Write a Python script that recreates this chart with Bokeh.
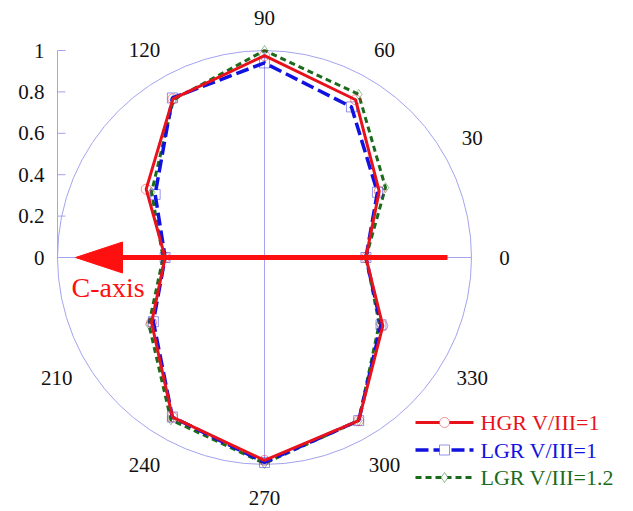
import numpy as np
from bokeh.plotting import figure
from bokeh.models import Range1d
from bokeh.core.properties import value
from bokeh.embed import file_html
from bokeh.resources import INLINE

# ---- data -------------------------------------------------------------
angles_deg = [0, 30, 60, 90, 120, 150, 180, 210, 240, 270, 300, 330]
hgr_v3_1 = [0.49, 0.64, 0.88, 0.975, 0.885, 0.66, 0.48, 0.63, 0.89, 0.98, 0.91, 0.66]
lgr_v3_1 = [0.49, 0.63, 0.84, 0.94, 0.89, 0.61, 0.48, 0.62, 0.89, 0.99, 0.91, 0.65]
lgr_v3_12 = [0.49, 0.675, 0.91, 1.0, 0.88, 0.63, 0.49, 0.645, 0.905, 0.995, 0.91, 0.64]
series_names = ["HGR V/III=1", "LGR V/III=1", "LGR V/III=1.2"]
radial_ticks = [0, 0.2, 0.4, 0.6, 0.8, 1]
radial_tick_labels = ["0", "0.2", "0.4", "0.6", "0.8", "1"]
angle_ticks = [0, 30, 60, 90, 120, 210, 240, 270, 300, 330]
angle_tick_labels = ["0", "30", "60", "90", "120", "210", "240", "270", "300", "330"]

# ---- layout -----------------------------------------------------------
W, H = 633, 511
CX, CY = 264, 257      # canvas pixel of polar origin
S = 207.0              # pixels per unit radius
FONT = value("Liberation Serif")
GRID = "#a3a3f0"
RED, BLUE, GREEN = "#e8121c", "#1212e0", "#1b6b1b"

p = figure(width=W, height=H, output_backend="svg", toolbar_location=None,
           x_range=Range1d(-CX / S, (W - CX) / S),
           y_range=Range1d(-(H - CY) / S, CY / S),
           min_border=0)
p.axis.visible = False
p.grid.visible = False
p.outline_line_color = None
p.background_fill_color = "white"


def px(d):
    return d / S


# grid: outer circle, axes cross
p.ellipse(x=0, y=0, width=2, height=2, fill_color=None, line_color=GRID, line_width=1)
p.segment(x0=[-1, 0], y0=[0, -1], x1=[1, 0], y1=[0, 1], line_color=GRID, line_width=1)

# radial axis on the left
p.segment(x0=-1, y0=0, x1=-1, y1=1, line_color=GRID, line_width=1)
p.segment(x0=[-1] * len(radial_ticks), y0=radial_ticks,
          x1=[-1 + px(8)] * len(radial_ticks), y1=radial_ticks,
          line_color=GRID, line_width=1)
p.text(x=[-1 - px(13)] * len(radial_ticks), y=radial_ticks, text=radial_tick_labels,
       text_font=FONT, text_font_size="21px", text_align="right",
       text_baseline="middle", text_color="#111111")

# angle labels
ang = np.radians(angle_ticks)
rl = px(240)
p.text(x=rl * np.cos(ang), y=rl * np.sin(ang), text=angle_tick_labels,
       text_font=FONT, text_font_size="21px", text_align="center",
       text_baseline="middle", text_color="#111111")

# series
styles = [
    dict(color=RED, dash="solid", width=3, marker="circle"),
    dict(color=BLUE, dash="13 5", width=3.5, marker="square"),
    dict(color=GREEN, dash="6 4", width=3, marker="diamond"),
]
series = [hgr_v3_1, lgr_v3_1, lgr_v3_12]
th = np.radians(angles_deg + [angles_deg[0]])
for vals, st in zip(series[::-1], styles[::-1]):
    r = np.array(vals + [vals[0]])
    xs, ys = r * np.cos(th), r * np.sin(th)
    p.line(xs, ys, line_color=st["color"], line_width=st["width"], line_dash=st["dash"])
    p.scatter(xs[:-1], ys[:-1], marker=st["marker"], size=10, fill_color=None,
              line_color=st["color"], line_alpha=0.45, line_width=1)

# C-axis arrow
a_start, a_tip = px(447 - 264), px(75 - 264)
head_len, head_half = px(47), px(15.5)
p.segment(x0=a_start, y0=0, x1=a_tip + head_len, y1=0, line_color="#ff1010", line_width=5)
p.patch(x=[a_tip, a_tip + head_len, a_tip + head_len], y=[0, head_half, -head_half],
        fill_color="#ff1010", line_color="#ff1010")
p.text(x=[px(71 - 264)], y=[px(257 - 287)], text=["C-axis"], text_font=FONT,
       text_font_size="28px", text_align="left", text_baseline="middle",
       text_color="#ff1010")

# legend (manual, coloured labels)
lx0, lx1, lm, lt = px(415 - 264), px(473 - 264), px(444 - 264), px(480 - 264)
rows_y = [px(257 - 422), px(257 - 449.5), px(257 - 477)]
for name, st, yy in zip(series_names, styles, rows_y):
    p.segment(x0=lx0, y0=yy, x1=lx1, y1=yy, line_color=st["color"],
              line_width=st["width"], line_dash=st["dash"])
    p.scatter([lm], [yy], marker=st["marker"], size=10, fill_color="white",
              line_color=st["color"], line_alpha=0.45, line_width=1)
    p.text(x=[lt], y=[yy], text=[name], text_font=FONT, text_font_size="22px",
           text_align="left", text_baseline="middle", text_color=st["color"])

open("out.html", "w").write(file_html(p, INLINE))
